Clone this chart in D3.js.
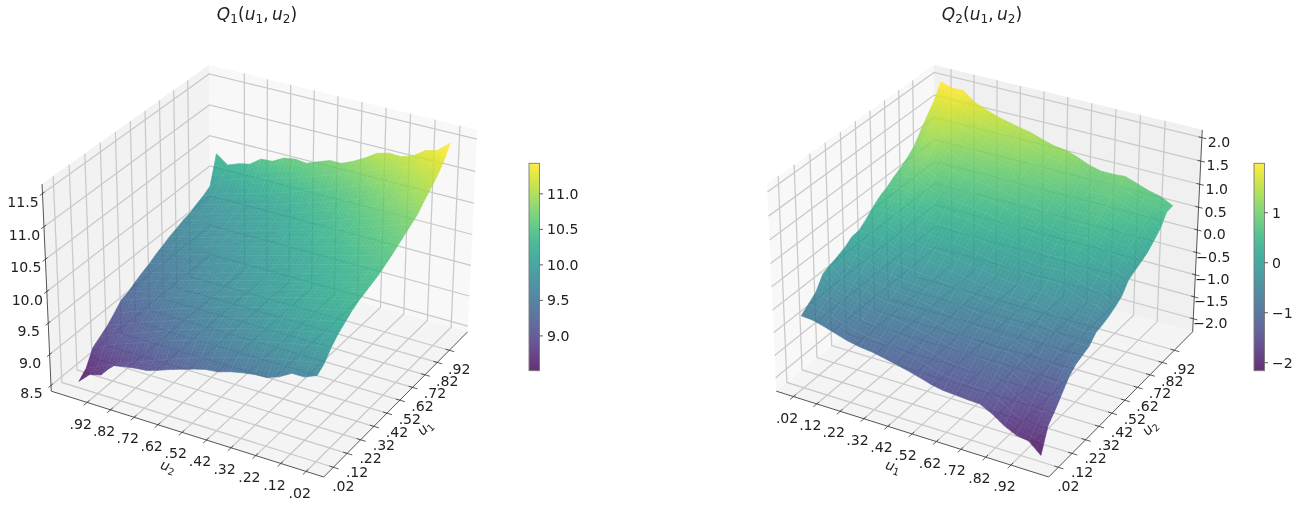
<!DOCTYPE html>
<html><head><meta charset="utf-8"><script src="https://cdn.jsdelivr.net/npm/d3@7"></script>
<style>html,body{margin:0;padding:0;background:#fff}svg{display:block;filter:blur(.35px)}text{font-family:"DejaVu Sans",sans-serif;fill:#222}</style></head>
<body><svg id="c" width="1299" height="516"></svg>
<script>
const tickLabels=[.02,.12,.22,.32,.42,.52,.62,.72,.82,.92];
const gridU=[.02,.069,.118,.167,.216,.265,.314,.363,.412,.461,.51,.559,.608,.657,.706,.755,.804,.853,.902,.951,1];
const q1ZTicks=[8.5,9,9.5,10,10.5,11,11.5];
const q2ZTicks=[-2,-1.5,-1,-.5,0,.5,1,1.5,2];
const q1BarTicks=[9,9.5,10,10.5,11];
const q2BarTicks=[-2,-1,0,1];
// rows: u1 index, columns: u2 index
const Q1=[
[9.75,9.67,9.67,9.56,9.49,9.48,9.45,9.41,9.35,9.33,9.28,9.22,9.16,9.09,9.03,9.01,8.98,8.94,8.73,8.68,8.51],
[9.83,9.80,9.76,9.72,9.68,9.63,9.58,9.53,9.48,9.42,9.36,9.30,9.23,9.16,9.09,9.02,8.95,8.87,8.79,8.71,8.62],
[9.98,9.95,9.91,9.87,9.83,9.79,9.74,9.69,9.65,9.60,9.54,9.48,9.42,9.36,9.30,9.23,9.16,9.09,9.03,8.94,8.86],
[10.09,10.05,10.01,9.97,9.93,9.88,9.83,9.78,9.73,9.68,9.62,9.56,9.50,9.44,9.37,9.30,9.23,9.16,9.09,9.02,8.94],
[10.17,10.13,10.09,10.05,10.01,9.96,9.90,9.85,9.80,9.74,9.69,9.63,9.57,9.50,9.44,9.37,9.31,9.24,9.17,9.10,9.02],
[10.25,10.21,10.17,10.13,10.08,10.03,9.97,9.92,9.87,9.82,9.77,9.71,9.65,9.59,9.53,9.47,9.40,9.33,9.27,9.20,9.13],
[10.31,10.27,10.23,10.18,10.14,10.09,10.04,9.99,9.94,9.89,9.84,9.79,9.73,9.67,9.62,9.56,9.49,9.44,9.38,9.31,9.25],
[10.35,10.31,10.26,10.22,10.17,10.12,10.07,10.02,9.97,9.92,9.87,9.81,9.76,9.70,9.65,9.59,9.53,9.47,9.41,9.35,9.29],
[10.39,10.35,10.30,10.25,10.20,10.15,10.10,10.05,10.01,9.95,9.91,9.85,9.80,9.75,9.70,9.64,9.59,9.53,9.48,9.42,9.36],
[10.43,10.38,10.33,10.28,10.23,10.19,10.14,10.09,10.04,9.99,9.94,9.89,9.84,9.79,9.74,9.68,9.63,9.58,9.53,9.47,9.42],
[10.49,10.44,10.39,10.34,10.29,10.24,10.18,10.13,10.08,10.03,9.98,9.93,9.88,9.83,9.78,9.72,9.67,9.62,9.57,9.52,9.47],
[10.55,10.50,10.44,10.39,10.34,10.29,10.24,10.18,10.13,10.08,10.03,9.98,9.93,9.88,9.83,9.78,9.73,9.68,9.64,9.59,9.54],
[10.62,10.56,10.51,10.45,10.40,10.34,10.29,10.23,10.18,10.13,10.08,10.03,9.98,9.93,9.87,9.83,9.78,9.73,9.68,9.64,9.59],
[10.69,10.63,10.57,10.51,10.45,10.40,10.34,10.29,10.23,10.18,10.13,10.07,10.02,9.97,9.92,9.88,9.83,9.78,9.74,9.69,9.65],
[10.76,10.70,10.63,10.57,10.51,10.45,10.39,10.33,10.27,10.22,10.17,10.11,10.06,10.01,9.96,9.91,9.86,9.82,9.77,9.73,9.69],
[10.83,10.76,10.69,10.63,10.56,10.50,10.44,10.38,10.32,10.26,10.22,10.16,10.11,10.06,10.01,9.96,9.91,9.87,9.82,9.78,9.74],
[10.95,10.87,10.80,10.74,10.67,10.59,10.53,10.46,10.40,10.34,10.27,10.21,10.16,10.10,10.05,10.00,9.95,9.90,9.86,9.81,9.77],
[11.05,10.97,10.89,10.81,10.74,10.66,10.59,10.52,10.46,10.39,10.34,10.28,10.22,10.16,10.11,10.06,10.01,9.96,9.92,9.87,9.83],
[11.16,11.08,11.01,10.94,10.86,10.80,10.72,10.65,10.58,10.51,10.45,10.39,10.33,10.27,10.21,10.16,10.11,10.06,10.01,9.95,9.88],
[11.30,11.22,11.14,11.07,10.99,10.95,10.87,10.80,10.73,10.66,10.60,10.54,10.48,10.42,10.36,10.31,10.26,10.20,10.15,10.08,9.95],
[11.50,11.34,11.29,11.16,11.10,11.11,11.06,10.94,10.84,10.76,10.76,10.69,10.62,10.64,10.61,10.51,10.50,10.37,10.33,10.26,10.40]];
const Q2=[
[-.70,-.57,-.44,-.17,-.10,-.04,.03,.14,.16,.28,.43,.55,.63,.74,.83,.94,1.08,1.32,1.54,1.75,2.05],
[-.72,-.63,-.53,-.43,-.32,-.21,-.10,.02,.15,.27,.41,.54,.68,.83,.98,1.13,1.29,1.46,1.62,1.80,1.97],
[-.79,-.69,-.58,-.48,-.36,-.25,-.13,0,.13,.26,.40,.53,.67,.83,.98,1.13,1.29,1.45,1.62,1.78,1.98],
[-.87,-.77,-.67,-.56,-.45,-.34,-.23,-.11,.02,.14,.28,.40,.54,.69,.83,.98,1.13,1.29,1.45,1.61,1.78],
[-.95,-.84,-.74,-.63,-.52,-.41,-.29,-.17,-.05,.07,.21,.34,.48,.62,.76,.90,1.06,1.20,1.36,1.52,1.68],
[-1.00,-.90,-.79,-.68,-.57,-.45,-.33,-.21,-.09,.03,.17,.29,.43,.57,.70,.84,.99,1.13,1.28,1.44,1.59],
[-1.03,-.92,-.82,-.70,-.58,-.47,-.35,-.23,-.10,.02,.15,.28,.41,.54,.68,.81,.95,1.09,1.24,1.39,1.53],
[-1.08,-.97,-.85,-.74,-.62,-.50,-.38,-.26,-.13,-.01,.12,.25,.38,.51,.64,.77,.90,1.05,1.19,1.34,1.47],
[-1.14,-1.02,-.90,-.79,-.66,-.54,-.42,-.29,-.17,-.05,.09,.22,.35,.48,.61,.74,.87,1.01,1.16,1.30,1.42],
[-1.20,-1.08,-.96,-.83,-.71,-.59,-.47,-.34,-.22,-.09,.04,.16,.29,.42,.55,.68,.80,.94,1.07,1.20,1.33],
[-1.27,-1.14,-1.02,-.89,-.76,-.64,-.51,-.38,-.26,-.13,-.01,.12,.25,.37,.50,.63,.75,.88,1.01,1.13,1.26],
[-1.35,-1.22,-1.09,-.96,-.83,-.69,-.56,-.43,-.30,-.17,-.04,.09,.22,.35,.48,.60,.72,.85,.97,1.10,1.23],
[-1.40,-1.26,-1.13,-.99,-.86,-.73,-.60,-.47,-.34,-.21,-.08,.05,.17,.30,.42,.54,.66,.78,.90,1.02,1.14],
[-1.42,-1.28,-1.15,-1.01,-.88,-.75,-.62,-.49,-.37,-.24,-.12,.01,.13,.25,.36,.48,.59,.70,.81,.92,1.03],
[-1.44,-1.30,-1.16,-1.03,-.90,-.77,-.64,-.51,-.39,-.26,-.14,-.02,.10,.21,.32,.44,.55,.65,.76,.87,.97],
[-1.45,-1.30,-1.16,-1.02,-.88,-.75,-.62,-.49,-.36,-.24,-.12,0,.12,.24,.35,.46,.57,.67,.77,.87,.97],
[-1.58,-1.42,-1.27,-1.12,-.97,-.84,-.69,-.56,-.43,-.30,-.14,0,.12,.25,.35,.46,.57,.68,.78,.89,.99],
[-1.76,-1.59,-1.44,-1.27,-1.11,-.96,-.81,-.66,-.52,-.39,-.25,-.12,.01,.13,.25,.36,.48,.57,.68,.79,.90],
[-1.89,-1.72,-1.55,-1.38,-1.22,-1.06,-.91,-.77,-.62,-.48,-.34,-.21,-.07,.05,.17,.28,.39,.49,.59,.70,.81],
[-1.93,-1.75,-1.59,-1.42,-1.25,-1.09,-.93,-.79,-.65,-.50,-.37,-.24,-.11,.01,.13,.25,.35,.46,.56,.66,.75],
[-2.16,-1.66,-1.47,-1.25,-1.03,-.90,-.84,-.78,-.62,-.58,-.53,-.45,-.35,-.13,-.06,.01,.09,.22,.36,.60,.62]];

// camera: solved from where the axes box's corners fall on the page
const boxCorners=[[0,0,0,323.3,478.3],[1,0,0,468.3,329.5],[0,1,0,51.7,390],[1,1,0,210,262],[0,1,1,42,184],[1,0,1,477,131],[1,1,1,209.3,64]];
function solveCamera(pts){
  const A=[],b=[];
  pts.forEach(([X,Y,Z,u,v])=>{A.push([X,Y,Z,1,0,0,0,0,-u*X,-u*Y,-u*Z]);b.push(u);A.push([0,0,0,0,X,Y,Z,1,-v*X,-v*Y,-v*Z]);b.push(v);});
  const n=11,M=d3.range(n).map(i=>d3.range(n+1).map(j=>{let s=0;A.forEach((r,k)=>{s+=r[i]*(j<n?r[j]:b[k]);});return s;}));
  for(let i=0;i<n;i++){let p=i;for(let r=i+1;r<n;r++)if(Math.abs(M[r][i])>Math.abs(M[p][i]))p=r;[M[i],M[p]]=[M[p],M[i]];
    for(let r=0;r<n;r++){if(r===i)continue;const f=M[r][i]/M[i][i];for(let c=i;c<=n;c++)M[r][c]-=f*M[i][c];}}
  return M.map((r,i)=>r[n]/r[i]);
}
const P=solveCamera(boxCorners);
function project(s,t,z){const w=P[8]*s+P[9]*t+P[10]*z+1;return [(P[0]*s+P[1]*t+P[2]*z+P[3])/w,(P[4]*s+P[5]*t+P[6]*z+P[7])/w,w];}

const svg=d3.select("#c");
const defs=svg.append("defs");
const line=d3.line();
const SHADE=3; // smooth shading: each data quad is painted in SHADE x SHADE colour steps
function panel(o){
  const g=svg.append("g").attr("transform",`translate(${o.dx},0)`);
  const pt=(s,t,z)=>project(s,t,z).slice(0,2);
  const sS=d3.scaleLinear([.02,1],o.sRange), tS=d3.scaleLinear([.02,1],o.tRange), zS=d3.scaleLinear(o.zDomain,[0,1]);
  const poly=(a,fill)=>g.append("path").attr("d",line(a)+"Z").attr("fill",fill);
  poly([pt(0,1,0),pt(1,1,0),pt(1,1,1),pt(0,1,1)],o.paneL);
  poly([pt(1,0,0),pt(1,1,0),pt(1,1,1),pt(1,0,1)],o.paneR);
  poly([pt(0,0,0),pt(1,0,0),pt(1,1,0),pt(0,1,0)],"#f4f4f4");
  const grid=g.append("g").attr("fill","none").attr("stroke","#c9c9c9").attr("stroke-width",1.25);
  const L=(a)=>grid.append("path").attr("d",line(a));
  tickLabels.forEach(u=>{const s=sS(u),t=tS(u);
    L([pt(s,0,0),pt(s,1,0),pt(s,1,1)]);
    L([pt(0,t,0),pt(1,t,0),pt(1,t,1)]);});
  o.zTicks.forEach(v=>{const z=zS(v);L([pt(0,1,z),pt(1,1,z),pt(1,0,z)]);});
  // surface
  const color=d3.scaleSequential(d3.interpolateViridis).domain(o.cDomain).clamp(true);
  const R=o.rows;
  const V=(i,j)=>{const u1=gridU[i],u2=gridU[j];return {p:project(o.swap?sS(u2):sS(u1),o.swap?tS(u1):tS(u2),zS(R[i][j])),z:R[i][j]};};
  const mix=(a,b,c,d,x,y)=>{const f=k=>(1-x)*(1-y)*a[k]+x*(1-y)*b[k]+x*y*c[k]+(1-x)*y*d[k];return [f(0),f(1),f(2),f(3)];};
  const cells=[];
  for(let i=0;i<20;i++)for(let j=0;j<20;j++){
    const [a,b,c,d]=[V(i,j),V(i+1,j),V(i+1,j+1),V(i,j+1)].map(v=>[v.p[0],v.p[1],v.p[2],v.z]);
    for(let m=0;m<SHADE;m++)for(let n=0;n<SHADE;n++){
      const cn=[[m,n],[m+1,n],[m+1,n+1],[m,n+1]].map(([x,y])=>mix(a,b,c,d,x/SHADE,y/SHADE));
      cells.push({cn,z:d3.mean(cn,q=>q[3]),w:d3.mean(cn,q=>q[2])});
    }
  }
  cells.sort((x,y)=>y.w-x.w);
  const surf=g.append("g").attr("opacity",.82);
  surf.selectAll("path").data(cells).join("path")
    .attr("d",d=>line(d.cn.map(q=>[q[0],q[1]]))+"Z")
    .attr("fill",d=>color(d.z)).attr("stroke",d=>color(d.z)).attr("stroke-width",.6).attr("stroke-linejoin","round");
  const mesh=g.append("g").attr("fill","none").attr("stroke","#fff").attr("stroke-opacity",.1).attr("stroke-width",.5);
  d3.range(1,20).forEach(k=>{
    mesh.append("path").attr("d",line(d3.range(21).map(j=>V(k,j).p.slice(0,2))));
    mesh.append("path").attr("d",line(d3.range(21).map(i=>V(i,k).p.slice(0,2))));
  });
  // axes
  const ax=g.append("g").attr("fill","none").attr("stroke","#555").attr("stroke-width",1);
  ax.append("path").attr("d",line([pt(0,1,0),pt(0,0,0),pt(1,0,0)]));
  ax.append("path").attr("d",line(o.zAxisRight?[pt(1,0,0),pt(1,0,1)]:[pt(0,1,0),pt(0,1,1)]));
  const tick=g.append("g").attr("fill","none").attr("stroke","#333").attr("stroke-width",.8);
  const lab=g.append("g").attr("font-size",14.1).attr("text-anchor","middle");
  const put=(x,y,s)=>lab.append("text").attr("x",x).attr("y",y).attr("dy",".36em").text(s);
  tickLabels.forEach(u=>{const txt=String(u).slice(1);
    const s=sS(u),t=tS(u);
    tick.append("path").attr("d",line([pt(s,-.018,0),pt(s,.014,0)]));
    tick.append("path").attr("d",line([pt(-.02,t,0),pt(.014,t,0)]));
    const a=pt(s,0,0),b=pt(0,t,0);
    put(a[0]+10,a[1]+18.3,txt);
    put(b[0]-6.4,b[1]+21,txt);
  });
  o.zTicks.forEach(v=>{const z=zS(v);
    const txt=d3.format(".1f")(v).replace("-","\u2212");
    if(o.zAxisRight){const a=pt(1,0,z);tick.append("path").attr("d",line([pt(1,-.015,z),pt(1,.012,z)]));put(a[0]+17,a[1]+4.2,txt);}
    else{const a=pt(0,1,z);tick.append("path").attr("d",line([pt(-.015,1,z),pt(.012,1,z)]));put(a[0]-19.5,a[1]+8,txt);}
  });
  // axis names
  const name=(x,y,rot,base,sub)=>{const t=g.append("text").attr("transform",`translate(${x},${y}) rotate(${rot})`).attr("text-anchor","middle").attr("dy",".3em").attr("font-size",14.1);
    t.append("tspan").attr("font-style","italic").text(base);
    t.append("tspan").attr("font-size",9.8).attr("dy",3).text(sub);};
  name(168,466.7,18,"u",o.tName);
  name(425,428,-45,"u",o.sName);
  // title
  const tt=g.append("text").attr("x",257).attr("y",20).attr("text-anchor","middle").attr("font-size",17);
  const sb=(b,n,it)=>{tt.append("tspan").attr("font-style",it?"italic":"normal").text(b);if(n)tt.append("tspan").attr("font-size",12).attr("dy",3).text(n);if(n)tt.append("tspan").attr("font-size",1).attr("dy",-3).text("\u200a");};
  sb("Q",o.title,true);sb("(");sb("u","1",true);sb(",\u2009");sb("u","2",true);sb(")");
  // colorbar
  const id="cb"+o.title, lg=defs.append("linearGradient").attr("id",id).attr("x1",0).attr("x2",0).attr("y1",1).attr("y2",0);
  d3.range(0,1.0001,.05).forEach(f=>lg.append("stop").attr("offset",f).attr("stop-color",d3.interpolateViridis(f)).attr("stop-opacity",.82));
  const barY=d3.scaleLinear(o.cDomain,[370.7,163.3]);
  g.append("rect").attr("x",529).attr("y",163.3).attr("width",10.5).attr("height",207.4).attr("fill",`url(#${id})`).attr("stroke","#7a7a7a").attr("stroke-width",.9);
  o.barTicks.forEach(v=>{const y=barY(v);
    g.append("line").attr("x1",539.5).attr("x2",543).attr("y1",y).attr("y2",y).attr("stroke","#333").attr("stroke-width",.8);
    g.append("text").attr("x",547).attr("y",y).attr("dy",".36em").attr("font-size",14.1).text(o.barFmt(v));});
}
panel({dx:0,rows:Q1,swap:false,sRange:[.0615,.9335],tRange:[.0615,.9335],zDomain:[8.406,11.642],zTicks:q1ZTicks,cDomain:[8.51,11.43],barTicks:q1BarTicks,barFmt:d3.format(".1f"),zAxisRight:false,paneL:"#f2f2f2",paneR:"#f8f8f8",sName:"1",tName:"2",title:"1"});
panel({dx:725,rows:Q2,swap:true,sRange:[.0615,.9335],tRange:[.9335,.0615],zDomain:[-2.3,2.165],zTicks:q2ZTicks,cDomain:[-2.16,1.99],barTicks:q2BarTicks,barFmt:v=>String(v).replace("-","\u2212"),zAxisRight:true,paneL:"#f8f8f8",paneR:"#f0f0f0",sName:"2",tName:"1",title:"2"});
</script></body></html>
